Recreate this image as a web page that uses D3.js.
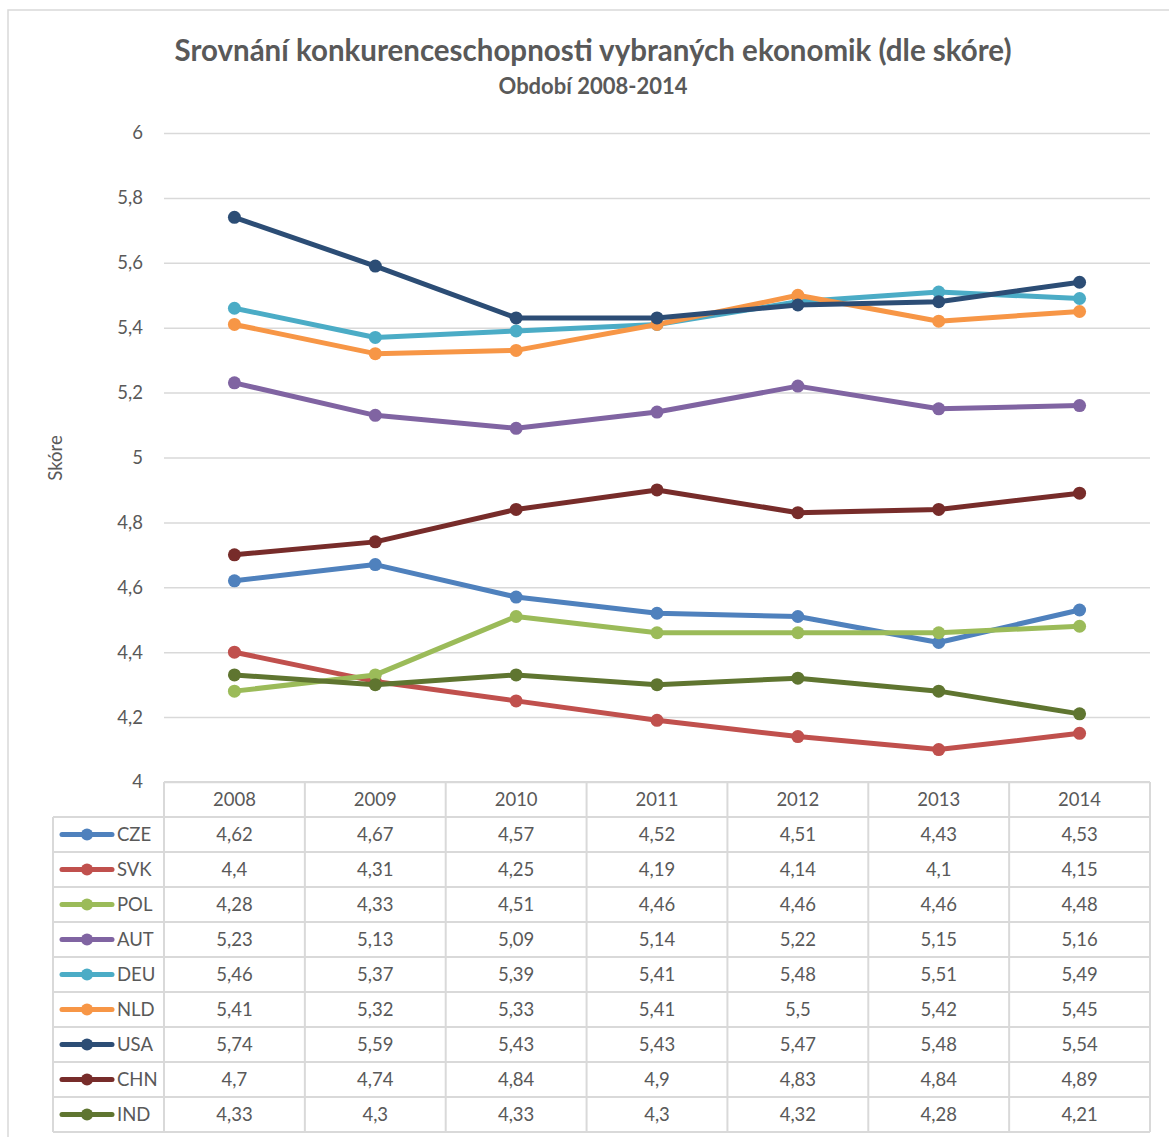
<!DOCTYPE html>
<html>
<head>
<meta charset="utf-8">
<script src="https://cdn.jsdelivr.net/npm/d3@7"></script>
<style>
    body { margin: 0; background: #fff; }
    text { font-family: Lato, "Open Sans", sans-serif; fill: #595959; }
</style>
</head>
<body>
<svg id="chart" width="1169" height="1137"></svg>
<script>
// data
const years = ["2008", "2009", "2010", "2011", "2012", "2013", "2014"];
const countries = ["CZE", "SVK", "POL", "AUT", "DEU", "NLD", "USA", "CHN", "IND"];
const colors = ["#4f81bd", "#c0504d", "#9bbb59", "#8064a2", "#4bacc6", "#f79646", "#2c4d75", "#772c2a", "#5f7530"];
const CZE = [4.62, 4.67, 4.57, 4.52, 4.51, 4.43, 4.53];
const SVK = [4.4, 4.31, 4.25, 4.19, 4.14, 4.1, 4.15];
const POL = [4.28, 4.33, 4.51, 4.46, 4.46, 4.46, 4.48];
const AUT = [5.23, 5.13, 5.09, 5.14, 5.22, 5.15, 5.16];
const DEU = [5.46, 5.37, 5.39, 5.41, 5.48, 5.51, 5.49];
const NLD = [5.41, 5.32, 5.33, 5.41, 5.5, 5.42, 5.45];
const USA = [5.74, 5.59, 5.43, 5.43, 5.47, 5.48, 5.54];
const CHN = [4.7, 4.74, 4.84, 4.9, 4.83, 4.84, 4.89];
const IND = [4.33, 4.3, 4.33, 4.3, 4.32, 4.28, 4.21];
const yTicks = [4, 4.2, 4.4, 4.6, 4.8, 5, 5.2, 5.4, 5.6, 5.8, 6];

const seriesValues = [CZE, SVK, POL, AUT, DEU, NLD, USA, CHN, IND];
const series = countries.map((c, i) => ({ name: c, color: colors[i], values: seriesValues[i] }));

const svg = d3.select("#chart");
const gridColor = "#d9d9d9";
const fmt = v => String(v).replace(".", ",");

// outer chart frame (cut off on the right and bottom like the picture)
svg.append("rect")
    .attr("x", 8).attr("y", 10)
    .attr("width", 1300).attr("height", 1300)
    .attr("fill", "none")
    .attr("stroke", gridColor)
    .attr("stroke-width", 1.5);

// titles
svg.append("text")
    .attr("x", 593).attr("y", 61)
    .attr("text-anchor", "middle")
    .style("font-size", "29.5px").style("font-weight", "bold")
    .text("Srovnání konkurenceschopnosti vybraných ekonomik (dle skóre)");
svg.append("text")
    .attr("x", 593).attr("y", 94)
    .attr("text-anchor", "middle")
    .style("font-size", "22px").style("font-weight", "bold")
    .text("Období 2008-2014");

const plotLeft = 164, plotRight = 1150, plotTop = 133, plotBottom = 782;

const x = d3.scalePoint()
    .domain(years)
    .range([plotLeft, plotRight])
    .padding(0.5);
const colW = (plotRight - plotLeft) / years.length;

const y = d3.scaleLinear()
    .domain([4, 6])
    .range([plotBottom, plotTop]);

// gridlines + y labels
const yAxis = d3.axisLeft(y)
    .tickValues(yTicks)
    .tickSize(-(plotRight - plotLeft))
    .tickPadding(21)
    .tickFormat(fmt);

const yg = svg.append("g")
    .attr("transform", "translate(" + plotLeft + ",0)")
    .call(yAxis);
yg.select(".domain").remove();
yg.selectAll(".tick line").attr("stroke", gridColor).attr("stroke-width", 1.5);
yg.selectAll(".tick text")
    .style("font-size", "18.5px")
    .style("font-family", "Lato, 'Open Sans', sans-serif")
    .attr("fill", "#595959");

svg.append("text")
    .attr("transform", "translate(62,458) rotate(-90)")
    .attr("text-anchor", "middle")
    .style("font-size", "18.5px")
    .text("Skóre");

// lines and markers
const line = d3.line()
    .x((d, i) => x(years[i]))
    .y(d => y(d));

const plot = svg.append("g");
series.forEach(s => {
    const g = plot.append("g");
    g.append("path")
        .datum(s.values)
        .attr("d", line)
        .attr("fill", "none")
        .attr("stroke", s.color)
        .attr("stroke-width", 5)
        .attr("stroke-linejoin", "round")
        .attr("stroke-linecap", "round");
    g.selectAll("circle")
        .data(s.values)
        .enter()
        .append("circle")
        .attr("cx", (d, i) => x(years[i]))
        .attr("cy", d => y(d))
        .attr("r", 6.5)
        .attr("fill", s.color);
});

// data table
const rowH = 35;
const tableLeft = 53;
const table = svg.append("g");
const hLine = (x1, x2, yy) => table.append("line")
    .attr("x1", x1).attr("x2", x2).attr("y1", yy).attr("y2", yy)
    .attr("stroke", gridColor).attr("stroke-width", 2);
const vLine = (xx, y1, y2) => table.append("line")
    .attr("x1", xx).attr("x2", xx).attr("y1", y1).attr("y2", y2)
    .attr("stroke", gridColor).attr("stroke-width", 2);

const headTop = plotBottom;
const bodyTop = headTop + rowH;
const tableBottom = bodyTop + rowH * series.length;

hLine(plotLeft, plotRight, headTop);
for (let r = 0; r <= series.length; r++) hLine(tableLeft, plotRight, bodyTop + r * rowH);
vLine(tableLeft, bodyTop, tableBottom);
vLine(plotLeft, headTop, tableBottom);
years.forEach((yr, i) => vLine(plotLeft + (i + 1) * colW, headTop, tableBottom));

// header
table.selectAll(".yr")
    .data(years)
    .enter()
    .append("text")
    .attr("x", d => x(d))
    .attr("y", headTop + rowH / 2)
    .attr("dy", "0.35em")
    .attr("text-anchor", "middle")
    .style("font-size", "18.5px")
    .text(d => d);

// rows
series.forEach((s, r) => {
    const cy = bodyTop + r * rowH + rowH / 2;
    table.append("line")
        .attr("x1", 62).attr("x2", 112)
        .attr("y1", cy).attr("y2", cy)
        .attr("stroke", s.color)
        .attr("stroke-width", 5)
        .attr("stroke-linecap", "round");
    table.append("circle")
        .attr("cx", 87).attr("cy", cy).attr("r", 6)
        .attr("fill", s.color);
    table.append("text")
        .attr("x", 117).attr("y", cy)
        .attr("dy", "0.35em")
        .style("font-size", "18.5px")
        .text(s.name);
    table.selectAll(".v" + r)
        .data(s.values)
        .enter()
        .append("text")
        .attr("x", (d, i) => x(years[i]))
        .attr("y", cy)
        .attr("dy", "0.35em")
        .attr("text-anchor", "middle")
        .style("font-size", "18.5px")
        .text(d => fmt(d));
});
</script>
</body>
</html>
